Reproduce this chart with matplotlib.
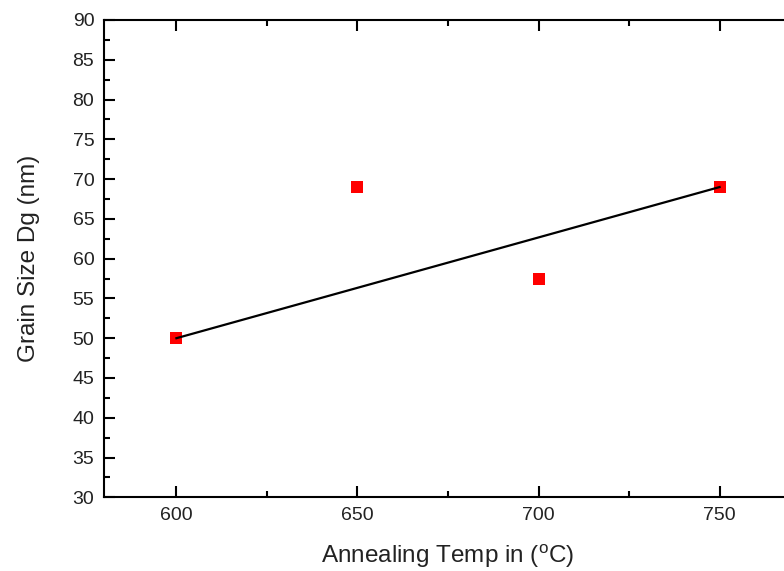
import matplotlib
matplotlib.use("Agg")
import matplotlib.pyplot as plt
from matplotlib.ticker import MultipleLocator

plt.rcParams['font.family'] = ['Liberation Sans', 'DejaVu Sans']
plt.rcParams['mathtext.fontset'] = 'custom'
plt.rcParams['mathtext.rm'] = 'Liberation Sans'

# Data
temps = [600, 650, 700, 750]
grain_size = [50, 69, 57.5, 69]
line_x = [600, 750]
line_y = [50, 69]

fig = plt.figure(figsize=(7.84, 5.71), dpi=100)
ax = fig.add_axes([104/784, (571-497.3)/571, 688/784, 477.3/571])

ax.plot(temps, grain_size, 's', color='#ff0000', markersize=8, zorder=2, markeredgewidth=0)
ax.plot(line_x, line_y, '-', color='black', linewidth=1.6, zorder=3)

ax.set_xlim(580, 770)
ax.set_ylim(30, 90)
ax.xaxis.set_major_locator(MultipleLocator(50))
ax.xaxis.set_minor_locator(MultipleLocator(25))
ax.yaxis.set_major_locator(MultipleLocator(5))
ax.yaxis.set_minor_locator(MultipleLocator(2.5))

ax.tick_params(which='both', direction='in', top=True, right=False, width=1.5,
               labelsize=14, colors='black', labelcolor='#222222', pad=7)
ax.tick_params(which='major', length=8)
ax.tick_params(which='minor', length=4)
for s in ax.spines.values():
    s.set_linewidth(1.5)

ax.set_xlabel(r'Annealing Temp in ($^{\mathrm{o}}$C)', fontsize=17.5, labelpad=13, color='#222222')
ax.set_ylabel('Grain Size Dg (nm)', fontsize=17.5, labelpad=23, color='#222222')

fig.savefig('out.png', dpi=100)
